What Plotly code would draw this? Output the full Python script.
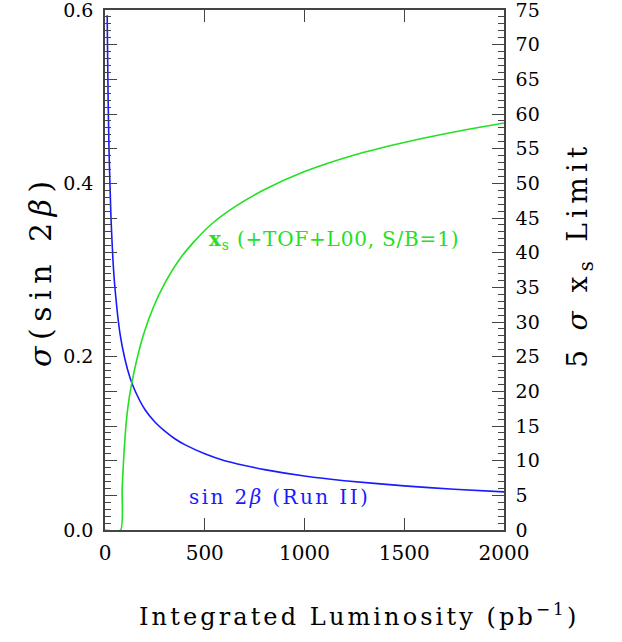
import plotly.graph_objects as go

# sigma(sin 2beta) vs integrated luminosity (left axis)
lumi_sin2b = [11, 15, 20, 30, 40, 50, 75, 100, 125, 150, 200, 250, 300, 350,
              400, 500, 600, 700, 800, 1000, 1200, 1500, 1750, 2000]
sigma_sin2b = [0.594, 0.509, 0.440, 0.360, 0.311, 0.279, 0.227, 0.197, 0.176,
               0.161, 0.139, 0.1246, 0.114, 0.1053, 0.0985, 0.088, 0.080,
               0.0745, 0.0697, 0.0623, 0.0569, 0.0509, 0.0471, 0.0440]

# 5 sigma x_s limit vs integrated luminosity (right axis)
lumi_xs = [0, 78, 86, 95, 108, 120, 133, 158, 192, 242, 300, 375, 450, 533,
           650, 800, 1000, 1250, 1500, 1750, 2000]
xs_limit = [0, 0, 6.0, 11.0, 16.0, 18.8, 21.0, 24.4, 28.1, 32.1, 35.6, 39.1,
            41.7, 44.1, 46.6, 49.1, 51.7, 54.1, 55.9, 57.4, 58.7]

x_ticks = [0, 500, 1000, 1500, 2000]
left_major = [round(i * 0.04, 2) for i in range(16)]
left_text = [f"{v:.1f}" if abs(v * 5 - round(v * 5)) < 1e-6 else "" for v in left_major]
right_ticks = list(range(0, 80, 5))

FONT = "DejaVu Serif"
BLUE = "#1a1aff"
GREEN = "#22e022"
AX = "#444444"


def spaced(txt, px):
    return f'<span style="letter-spacing:{px}px">{txt}</span>'


fig = go.Figure()
fig.add_trace(go.Scatter(x=lumi_sin2b, y=sigma_sin2b, mode="lines",
                         line=dict(color=BLUE, width=1.6, shape="spline",
                                   smoothing=0.5),
                         yaxis="y", showlegend=False))
fig.add_trace(go.Scatter(x=lumi_xs, y=xs_limit, mode="lines",
                         line=dict(color=GREEN, width=1.6, shape="spline",
                                   smoothing=0.6),
                         yaxis="y2", showlegend=False))

fig.update_layout(
    width=622, height=642,
    margin=dict(l=105, r=118, t=10, b=112, autoexpand=False),
    paper_bgcolor="white", plot_bgcolor="white",
    font=dict(family=FONT, color="black", size=19),
    xaxis=dict(range=[0, 2000], tickvals=x_ticks, ticks="inside", ticklen=12,
               tickcolor=AX, tickwidth=1.3, showline=True, linecolor=AX,
               linewidth=1.6, mirror="ticks", showgrid=False, zeroline=False,
               automargin=False, ticklabelstandoff=4,
               ticklabeloverflow="allow",
               tickfont=dict(size=20, family=FONT)),
    yaxis=dict(range=[0, 0.6], tickvals=left_major, ticktext=left_text,
               ticks="inside", ticklen=12, tickcolor=AX, tickwidth=1.3,
               minor=dict(dtick=0.008, ticks="inside", ticklen=6,
                          tickcolor=AX, tickwidth=1.1),
               showline=True, linecolor=AX, linewidth=1.6,
               showgrid=False, zeroline=False, automargin=False,
               ticklabelstandoff=6, ticklabeloverflow="allow",
               tickfont=dict(size=19, family=FONT)),
    yaxis2=dict(range=[0, 75], tickvals=right_ticks, overlaying="y",
                side="right", ticks="inside", ticklen=12, tickcolor=AX,
                tickwidth=1.3,
                minor=dict(dtick=1, ticks="inside", ticklen=6,
                           tickcolor=AX, tickwidth=1.1),
                showline=True, linecolor=AX, linewidth=1.6,
                showgrid=False, zeroline=False, automargin=False,
                ticklabelstandoff=6, ticklabeloverflow="allow",
                tickfont=dict(size=19, family=FONT)),
    annotations=[
        dict(x=510, y=0.335, xref="x", yref="y", xanchor="left",
             yanchor="middle", showarrow=False,
             text=spaced("<b>x</b><sub>s</sub> (+TOF+L00, S/B=1)", 0.8),
             font=dict(color=GREEN, size=20, family=FONT)),
        dict(x=410, y=0.038, xref="x", yref="y", xanchor="left",
             yanchor="middle", showarrow=False,
             text=spaced("sin 2<i>β</i> (Run II)", 2.4),
             font=dict(color=BLUE, size=20, family=FONT)),
        dict(x=-0.163, y=0.5, xref="paper", yref="paper", showarrow=False,
             xanchor="center", yanchor="middle", textangle=-90,
             text=spaced("<i>σ</i>(sin 2<i>β</i>)", 6.5),
             font=dict(size=30, family=FONT)),
        dict(x=1.19, y=0.529, xref="paper", yref="paper", showarrow=False,
             xanchor="center", yanchor="middle", textangle=-90,
             text=spaced("5 <i>σ</i> x<sub>s</sub> Limit", 5.2),
             font=dict(size=28, family=FONT)),
        dict(x=0.637, y=-0.163, xref="paper", yref="paper", showarrow=False,
             xanchor="center", yanchor="middle",
             text=spaced("Integrated Luminosity (pb<sup>−1</sup>)", 3.1),
             font=dict(size=24, family=FONT)),
    ],
)

fig.write_html("out.html", config={"displayModeBar": False},
               post_script="document.body.style.margin='0';"
                           "document.body.style.overflow='hidden';")
